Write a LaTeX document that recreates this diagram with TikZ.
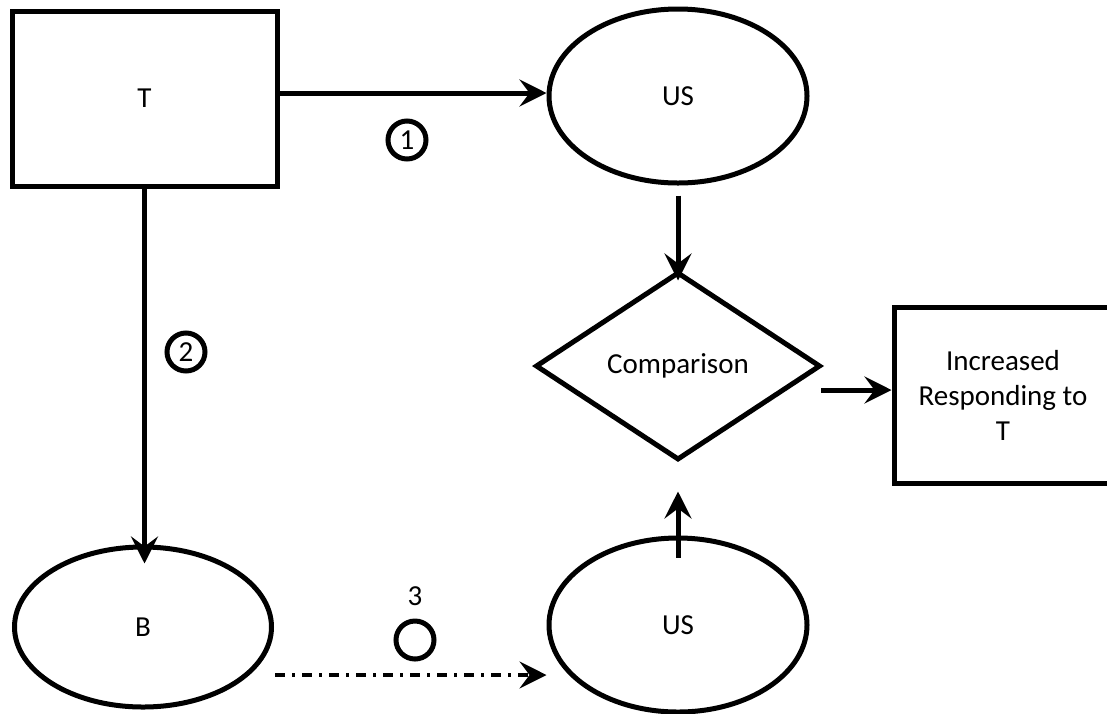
\documentclass[tikz,border=0pt]{standalone}
\usepackage{fontspec}
\setmainfont{Carlito}
\usetikzlibrary{shapes.geometric,arrows.meta}
\begin{document}
\begin{tikzpicture}[x=1pt,y=-1pt,
  every node/.style={font=\fontsize{29}{35}\selectfont},
  box/.style={draw,line width=5pt,rectangle,inner sep=0pt},
  oval/.style={draw,line width=5pt,ellipse,inner sep=0pt},
  dia/.style={draw,line width=5pt,diamond,inner sep=0pt},
  numcirc/.style={draw,line width=5pt,circle,minimum size=38pt,inner sep=0pt},
  arr/.style={line width=5pt,-{Stealth[length=27pt,width=27pt,inset=10pt]}},
  dd/.style={line width=3.5pt,dash pattern=on 10pt off 7pt on 3pt off 7pt,-{Stealth[length=27pt,width=27pt,inset=10pt]}}
]
\useasboundingbox (0,0) rectangle (1107,713);
\node[box,minimum width=265pt,minimum height=175pt] (T) at (144.5,98.5) {T};
\node[oval,minimum width=258pt,minimum height=174pt] (US1) at (678,96) {US};
\node[dia,minimum width=285pt,minimum height=188pt] (C) at (678,366) {Comparison};
\node[box,minimum width=218pt,minimum height=176pt,align=center] (I) at (1003,395) {Increased\\Responding to\\T};
\node[oval,minimum width=257pt,minimum height=160pt] (B) at (143,627) {B};
\node[oval,minimum width=258pt,minimum height=174pt] (US2) at (678,625) {US};
\node[numcirc] (n1) at (407,140) {1};
\node[numcirc] (n2) at (186,352) {2};
\node[numcirc] (n3) at (415,640) {};
\node (l3) at (415,596) {3};
% connectors
\coordinate (a1) at ([yshift=5.5pt]T.east);
\draw[arr] (a1) -- (a1 -| US1.west);
\draw[arr] (T.south) -- ([yshift=-19pt]T.south |- B.north);
\draw[arr] ([yshift=-10pt]US1.south) -- ([yshift=-11pt]C.north);
\draw[arr] ([yshift=-22pt]US2.north) -- ([yshift=-29pt]C.south);
\coordinate (a2) at ([xshift=-2pt,yshift=-24pt]C.east);
\draw[arr] (a2) -- (a2 -| I.west);
\coordinate (a3) at ([xshift=1pt,yshift=-48pt]B.east);
\draw[dd] (a3) -- (a3 -| US2.west);
\end{tikzpicture}
\end{document}
